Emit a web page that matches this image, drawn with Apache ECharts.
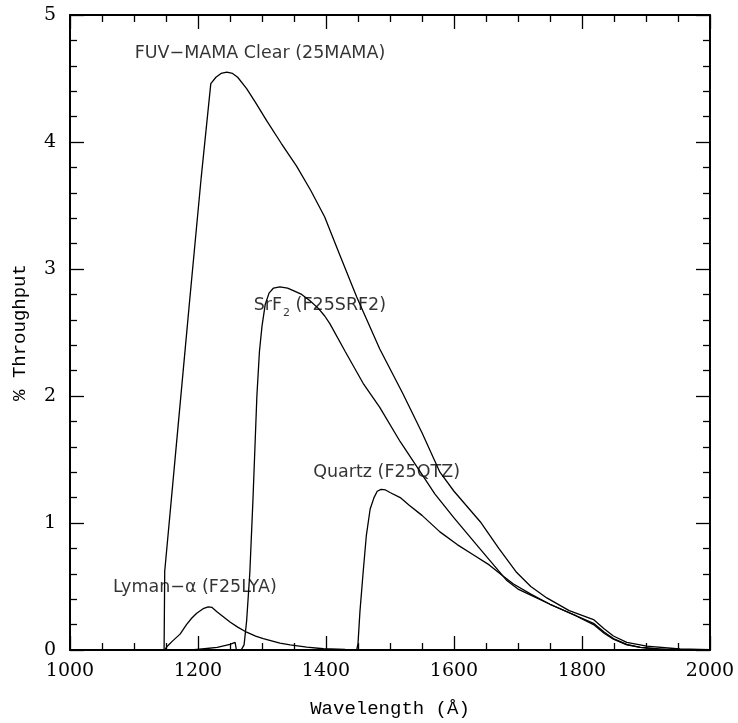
<!DOCTYPE html>
<html>
<head>
    <meta charset="utf-8" />
    <title>STIS FUV-MAMA throughput</title>
    <style>
        html, body { margin: 0; padding: 0; background: #fff; }
        #main { width: 738px; height: 723px; }
    </style>
    <script src="https://cdn.jsdelivr.net/npm/echarts@6/dist/echarts.min.js"></script>
</head>
<body>
    <div id="main"></div>
    <script type="text/javascript">
        // wavelength (Å), % throughput
        const fuvClear = [
            [1147, 0], [1148, 0.62], [1165, 1.55], [1186, 2.7], [1205, 3.72], [1220, 4.46],
            [1228, 4.51], [1236, 4.54], [1245, 4.55], [1254, 4.54], [1262, 4.51], [1276, 4.42],
            [1290, 4.31], [1307, 4.17], [1330, 3.99], [1354, 3.81], [1376, 3.62], [1398, 3.41],
            [1420, 3.13], [1448, 2.78], [1484, 2.37], [1520, 2.02], [1550, 1.71], [1578, 1.40],
            [1600, 1.25], [1641, 1.01], [1670, 0.80], [1698, 0.61], [1720, 0.50], [1745, 0.41],
            [1780, 0.31], [1818, 0.24], [1834, 0.17], [1849, 0.11], [1870, 0.06], [1901, 0.03],
            [1953, 0.008], [2000, 0.002]
        ];
        const srf2 = [
            [1190, 0], [1210, 0.01], [1230, 0.02], [1250, 0.045], [1258, 0.06], [1260, 0.0],
            [1268, 0.005], [1272, 0.04], [1276, 0.23], [1281, 0.61], [1286, 1.2], [1292, 2.0],
            [1296, 2.35], [1300, 2.55], [1305, 2.72], [1311, 2.81], [1318, 2.85], [1328, 2.86],
            [1340, 2.85], [1349, 2.83], [1362, 2.80], [1375, 2.75], [1388, 2.69], [1398, 2.63],
            [1406, 2.57], [1430, 2.35], [1458, 2.10], [1484, 1.91], [1516, 1.64], [1545, 1.42],
            [1570, 1.23], [1600, 1.04], [1640, 0.80], [1682, 0.55], [1700, 0.48], [1750, 0.36],
            [1800, 0.25], [1818, 0.21], [1835, 0.14], [1849, 0.09], [1870, 0.045], [1891, 0.02],
            [1920, 0.007], [1960, 0.002], [2000, 0]
        ];
        const quartz = [
            [1448, 0], [1450, 0.05], [1453, 0.3], [1458, 0.61], [1463, 0.9], [1469, 1.11],
            [1475, 1.2], [1480, 1.25], [1486, 1.265], [1493, 1.26], [1500, 1.24], [1516, 1.20],
            [1530, 1.14], [1550, 1.06], [1578, 0.93], [1605, 0.83], [1630, 0.75], [1655, 0.67],
            [1677, 0.58], [1693, 0.52], [1720, 0.44], [1750, 0.36], [1790, 0.27], [1818, 0.20],
            [1835, 0.13], [1849, 0.086], [1870, 0.04], [1891, 0.02], [1930, 0.005], [1980, 0.001],
            [2000, 0]
        ];
        const lymanAlpha = [
            [1148, 0], [1152, 0.03], [1160, 0.07], [1172, 0.125], [1182, 0.20], [1190, 0.25],
            [1198, 0.29], [1208, 0.325], [1216, 0.34], [1222, 0.335], [1230, 0.30], [1240, 0.26],
            [1250, 0.22], [1262, 0.18], [1276, 0.14], [1290, 0.11], [1302, 0.09], [1328, 0.055],
            [1344, 0.04], [1370, 0.022], [1396, 0.01], [1430, 0.004], [1460, 0]
        ];

        // annotation text and where it sits (left edge, vertical centre) in data units
        const labelTexts = [
            'FUV\u2212MAMA Clear (25MAMA)',
            '{a|SrF}{s|2}{a| (F25SRF2)}',
            'Quartz (F25QTZ)',
            'Lyman\u2212\u03b1 (F25LYA)'
        ];
        const labelAnchors = [[1101, 4.70], [1287, 2.71], [1380, 1.40], [1067, 0.49]];

        const xTicks = { min: 1000, max: 2000, interval: 200 };
        const yTicks = { min: 0, max: 5, interval: 1 };

        const black = '#000';
        const tickFont = { fontFamily: 'DejaVu Serif', fontSize: 19, color: black };

        function frameAxis(extra) {
            return Object.assign({
                type: 'value',
                axisLine: { show: true, onZero: false, lineStyle: { color: black, width: 2 } },
                axisTick: { show: true, inside: true, length: 14, lineStyle: { color: black, width: 1.3 } },
                splitLine: { show: false },
                minorSplitLine: { show: false }
            }, extra);
        }

        function curve(name, data) {
            return {
                name: name,
                type: 'line',
                data: data,
                showSymbol: false,
                symbol: 'none',
                smooth: false,
                lineStyle: { color: black, width: 1.3 },
                animation: false
            };
        }

        const myChart = echarts.init(document.getElementById('main'), null, { renderer: 'canvas' });

        const option = {
            backgroundColor: '#fff',
            animation: false,
            grid: { left: 70, right: 28, top: 15, bottom: 67 },
            xAxis: [
                frameAxis(Object.assign({}, xTicks, {
                    position: 'bottom',
                    minorTick: { show: true, splitNumber: 4, length: 7, lineStyle: { color: black, width: 1.3 } },
                    axisLabel: Object.assign({ margin: 12, formatter: function (v) { return String(v); } }, tickFont),
                    name: 'Wavelength (\u00c5)',
                    nameLocation: 'middle',
                    nameGap: 49,
                    nameTextStyle: { fontFamily: 'Liberation Mono', fontSize: 19, color: black }
                })),
                frameAxis(Object.assign({}, xTicks, {
                    position: 'top',
                    minorTick: { show: true, splitNumber: 4, length: 7, lineStyle: { color: black, width: 1.3 } },
                    axisLabel: { show: false }
                }))
            ],
            yAxis: [
                frameAxis(Object.assign({}, yTicks, {
                    position: 'left',
                    minorTick: { show: true, splitNumber: 5, length: 7, lineStyle: { color: black, width: 1.3 } },
                    axisLabel: Object.assign({ margin: 14 }, tickFont),
                    name: '% Throughput',
                    nameLocation: 'middle',
                    nameGap: 41,
                    nameRotate: 90,
                    nameTextStyle: { fontFamily: 'Liberation Mono', fontSize: 19, color: black }
                })),
                frameAxis(Object.assign({}, yTicks, {
                    position: 'right',
                    minorTick: { show: true, splitNumber: 5, length: 7, lineStyle: { color: black, width: 1.3 } },
                    axisLabel: { show: false }
                }))
            ],
            series: [
                curve('FUV-MAMA Clear', fuvClear),
                curve('SrF2', srf2),
                curve('Quartz', quartz),
                curve('Lyman-alpha', lymanAlpha),
                {
                    type: 'scatter',
                    symbolSize: 0,
                    silent: true,
                    animation: false,
                    data: labelAnchors,
                    label: {
                        show: true,
                        position: 'right',
                        distance: 0,
                        fontFamily: 'DejaVu Sans',
                        fontSize: 17.5,
                        color: '#000',
                        formatter: function (p) { return labelTexts[p.dataIndex]; },
                        rich: {
                            a: { fontFamily: 'DejaVu Sans', fontSize: 17.5, color: '#000', lineHeight: 20 },
                            s: { fontFamily: 'DejaVu Sans', fontSize: 11, color: '#000', lineHeight: 20, verticalAlign: 'bottom', padding: [0, 0, -3, 1] }
                        }
                    }
                }
            ]
        };

        myChart.setOption(option);
    </script>
</body>
</html>
